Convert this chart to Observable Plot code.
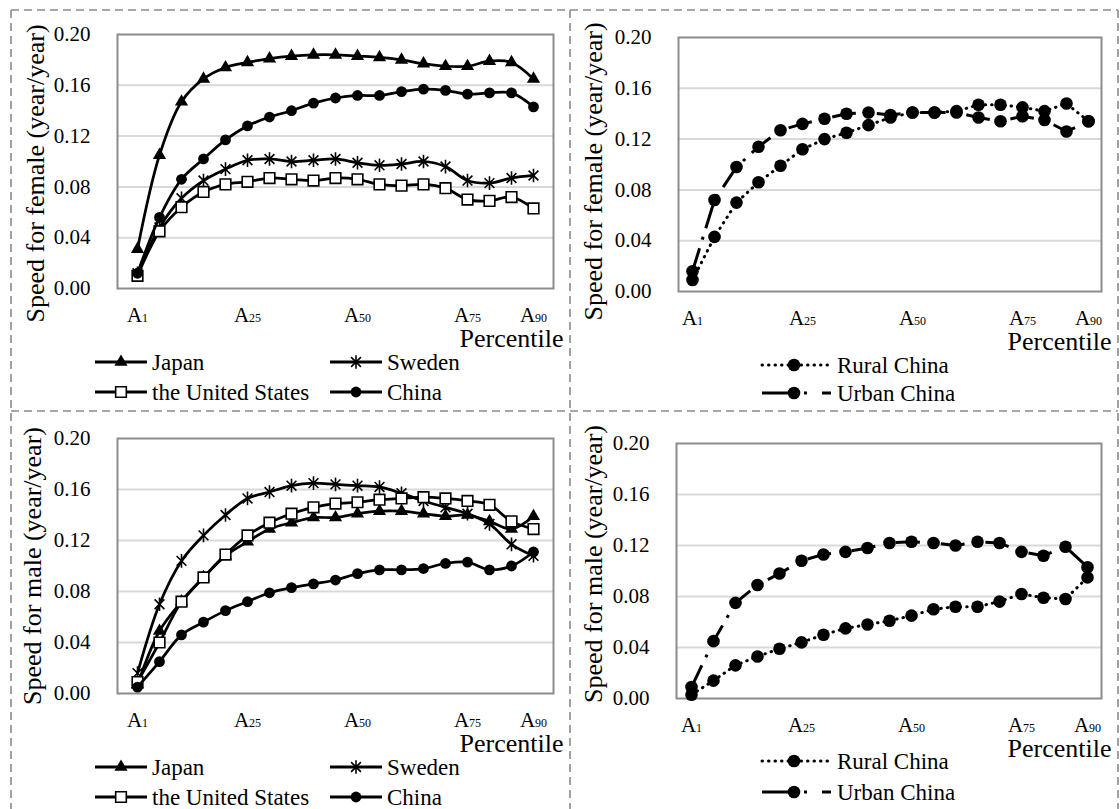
<!DOCTYPE html>
<html><head><meta charset="utf-8">
<script src="https://cdn.jsdelivr.net/npm/d3@7"></script>
<script src="https://cdn.jsdelivr.net/npm/@observablehq/plot@0.6"></script>
<style>
body{margin:0;background:#fff;font-family:'Liberation Serif','Times New Roman',serif;}
#root{position:relative;width:1120px;height:809px;overflow:hidden;background:#fff;}
.panel{position:absolute;}
.leg{position:absolute;display:flex;align-items:center;height:26px;font-size:23px;white-space:nowrap;line-height:1;color:#000;}
.leg svg{display:block;flex:none;}
</style></head><body><div id="root"></div>
<script>
// ---------- data ----------
const percentiles = [1,5,10,15,20,25,30,35,40,45,50,55,60,65,70,75,80,85,90];
const tickPercentiles = [1,25,50,75,90];
const yTicks = [0,0.04,0.08,0.12,0.16,0.20];
const gridTicks = [0.04,0.08,0.12,0.16];
const countryNames = ["Japan","Sweden","the United States","China"];
const areaNames = ["Rural China","Urban China"];
const yLabelFemale = "Speed for female (year/year)";
const yLabelMale = "Speed for male (year/year)";
const xLabel = "Percentile";

const femaleJapan  = [0.031,0.105,0.147,0.165,0.174,0.178,0.181,0.183,0.184,0.184,0.183,0.182,0.180,0.177,0.175,0.175,0.179,0.178,0.165];
const femaleSweden = [0.012,0.048,0.071,0.085,0.094,0.101,0.102,0.100,0.101,0.102,0.099,0.097,0.098,0.100,0.096,0.085,0.083,0.087,0.089];
const femaleUS     = [0.010,0.045,0.064,0.076,0.082,0.084,0.087,0.086,0.085,0.087,0.086,0.082,0.081,0.082,0.079,0.070,0.069,0.072,0.063];
const femaleChina  = [0.012,0.056,0.086,0.102,0.117,0.128,0.135,0.140,0.146,0.150,0.152,0.152,0.155,0.157,0.156,0.153,0.154,0.154,0.143];

const femaleRural  = [0.009,0.043,0.070,0.086,0.099,0.112,0.120,0.125,0.131,0.137,0.141,0.141,0.142,0.147,0.147,0.145,0.142,0.148,0.134];
const femaleUrban  = [0.016,0.072,0.098,0.114,0.127,0.132,0.136,0.140,0.141,0.139,0.141,0.141,0.141,0.137,0.134,0.138,0.135,0.126,0.134];

const maleJapan  = [0.007,0.049,0.072,0.091,0.108,0.119,0.129,0.134,0.138,0.138,0.141,0.143,0.143,0.141,0.139,0.140,0.135,0.129,0.139];
const maleSweden = [0.016,0.070,0.104,0.124,0.140,0.153,0.158,0.163,0.165,0.164,0.163,0.162,0.157,0.151,0.146,0.141,0.133,0.117,0.108];
const maleUS     = [0.009,0.040,0.072,0.091,0.109,0.124,0.134,0.141,0.146,0.149,0.150,0.152,0.153,0.154,0.153,0.151,0.148,0.135,0.129];
const maleChina  = [0.005,0.025,0.046,0.056,0.065,0.072,0.079,0.083,0.086,0.089,0.094,0.097,0.097,0.098,0.102,0.103,0.097,0.100,0.111];

const maleRural  = [0.003,0.014,0.026,0.033,0.039,0.044,0.050,0.055,0.058,0.061,0.065,0.070,0.072,0.072,0.076,0.082,0.079,0.078,0.095];
const maleUrban  = [0.009,0.045,0.075,0.089,0.098,0.108,0.113,0.115,0.118,0.122,0.123,0.122,0.120,0.123,0.122,0.115,0.112,0.119,0.103];

// ---------- styles ----------
const FONT = "'Liberation Serif', 'Times New Roman', serif";
const asterisk = {
  draw(ctx, size) {
    const r = Math.sqrt(size / Math.PI);
    const d = r * 0.72;
    ctx.moveTo(0, -r); ctx.lineTo(0, r);
    ctx.moveTo(-d, -d); ctx.lineTo(d, d);
    ctx.moveTo(-d, d); ctx.lineTo(d, -d);
  }
};
const countryStyle = {
  "Japan": {symbol: "triangle", r: 4.9, fill: "black", stroke: "none", sw: 0},
  "Sweden": {symbol: asterisk, r: 6.8, fill: "none", stroke: "black", sw: 1.6},
  "the United States": {symbol: "square", r: 6.0, fill: "white", stroke: "black", sw: 1.6},
  "China": {symbol: "circle", r: 5.4, fill: "black", stroke: "none", sw: 0}
};
const areaStyle = {
  "Rural China": {symbol: "circle", r: 6.3, fill: "black", stroke: "none", sw: 0, dash: "0.5,6", cap: "round"},
  "Urban China": {symbol: "circle", r: 6.3, fill: "black", stroke: "none", sw: 0, dash: "24,9,3,9", cap: "butt"}
};

const root = document.getElementById("root");

function makePanel(cfg) {
  const marks = [
    Plot.gridY(gridTicks, {stroke: "#d9d9d9", strokeOpacity: 1, strokeWidth: 2}),
    Plot.frame({stroke: "#8c8c8c", strokeWidth: 2}),
    Plot.axisY(yTicks, {tickSize: 0, tickPadding: 27, tickFormat: d3.format(".2f"), fontSize: 21, label: null}),
    Plot.axisX(tickPercentiles, {tickSize: 0, tickPadding: 19, fontSize: 21, label: null, tickFormat: d => "A" + d}),
    Plot.text([cfg.ylabel], {text: d => d, frameAnchor: "left", textAnchor: "middle", lineAnchor: "middle", rotate: -90, dx: cfg.ylDx, dy: cfg.ylDy, fontSize: 26}),
    Plot.text([xLabel], {text: d => d, frameAnchor: "bottom-right", textAnchor: "end", lineAnchor: "bottom", dx: 10, dy: 58, fontSize: 26})
  ];
  for (const s of cfg.series) {
    const st = cfg.styles[s.name];
    const data = percentiles.map((p, i) => ({p, v: s.values[i]}));
    marks.push(Plot.line(data, {x: "p", y: "v", stroke: "black", strokeWidth: cfg.lineW, curve: cfg.curve,
      strokeDasharray: st.dash, strokeLinecap: st.cap || "round", strokeLinejoin: "round"}));
    marks.push(Plot.dot(data, {x: "p", y: "v", symbol: st.symbol, r: st.r, fill: st.fill, stroke: st.stroke, strokeWidth: st.sw}));
  }
  const chart = Plot.plot({
    width: cfg.width, height: cfg.height,
    marginLeft: cfg.mL, marginRight: cfg.mR, marginTop: cfg.mT, marginBottom: cfg.mB,
    x: {type: "point", domain: percentiles, padding: 0.5},
    y: {domain: [0, 0.2]},
    style: {color: "black", background: "transparent", overflow: "visible", fontFamily: FONT},
    marks
  });
  const sel = d3.select(chart);
  sel.selectAll('g[aria-label="y-axis tick label"] text').style("font-size", "21px");
  // subscripts for tick labels A1, A25 ...
  sel.selectAll('g[aria-label="x-axis tick label"] text').each(function() {
    const t = d3.select(this);
    const s = t.text();
    t.style("font-size", "21px").text("A");
    t.append("tspan").attr("font-size", 12).style("font-size", "12px").text(s.slice(1));
  });
  sel.selectAll("text").style("font-family", FONT);
  const div = document.createElement("div");
  div.className = "panel";
  div.style.left = cfg.left + "px";
  div.style.top = cfg.top + "px";
  div.appendChild(chart);
  root.appendChild(div);
}

function legendItem(x, y, w, markerX, name, st, lineDash, cap, textGap) {
  const div = document.createElement("div");
  div.className = "leg";
  div.style.left = x + "px";
  div.style.top = (y - 13) + "px";
  div.style.fontFamily = FONT;
  const svg = d3.create("svg").attr("width", w).attr("height", 26).style("overflow", "visible");
  svg.append("line").attr("x1", 0).attr("x2", w).attr("y1", 13).attr("y2", 13)
    .attr("stroke", "black").attr("stroke-width", 3)
    .attr("stroke-dasharray", lineDash || null).attr("stroke-linecap", cap || "butt");
  const sym = st.symbol;
  const size = st.r * st.r * Math.PI;
  if (sym === "circle") {
    svg.append("circle").attr("cx", markerX).attr("cy", 13).attr("r", st.r).attr("fill", st.fill);
  } else {
    const symType = sym === "triangle" ? d3.symbolTriangle : sym === "square" ? d3.symbolSquare : sym;
    svg.append("path").attr("transform", `translate(${markerX},13)`)
      .attr("d", d3.symbol(symType, size)())
      .attr("fill", st.fill).attr("stroke", st.stroke === "none" ? null : st.stroke).attr("stroke-width", st.sw);
  }
  div.appendChild(svg.node());
  const span = document.createElement("span");
  span.style.marginLeft = textGap + "px";
  span.style.fontSize = "23px";
  span.style.fontFamily = FONT;
  span.textContent = name;
  div.appendChild(span);
  root.appendChild(div);
}

// ---------- panels ----------
const leftCurve = "catmull-rom";
makePanel({left: 11, top: 10, width: 559, height: 345, mL: 106, mR: 17, mT: 24, mB: 67,
  ylabel: yLabelFemale, ylDx: -82, ylDy: 12, curve: leftCurve, lineW: 2.75, styles: countryStyle,
  series: [{name: "Japan", values: femaleJapan}, {name: "Sweden", values: femaleSweden},
           {name: "the United States", values: femaleUS}, {name: "China", values: femaleChina}]});
makePanel({left: 570, top: 10, width: 548, height: 345, mL: 108, mR: 17, mT: 27, mB: 64,
  ylabel: yLabelFemale, ylDx: -85, ylDy: 7, curve: "linear", lineW: 3, styles: areaStyle,
  series: [{name: "Rural China", values: femaleRural}, {name: "Urban China", values: femaleUrban}]});
makePanel({left: 11, top: 411, width: 559, height: 350, mL: 106, mR: 17, mT: 27, mB: 68,
  ylabel: yLabelMale, ylDx: -85, ylDy: 0, curve: leftCurve, lineW: 2.75, styles: countryStyle,
  series: [{name: "Japan", values: maleJapan}, {name: "Sweden", values: maleSweden},
           {name: "the United States", values: maleUS}, {name: "China", values: maleChina}]});
makePanel({left: 570, top: 411, width: 548, height: 350, mL: 106, mR: 17, mT: 32, mB: 63,
  ylabel: yLabelMale, ylDx: -83, ylDy: -7, curve: "linear", lineW: 3, styles: areaStyle,
  series: [{name: "Rural China", values: maleRural}, {name: "Urban China", values: maleUrban}]});

// ---------- legends ----------
function countryLegend(row1, row2) {
  const cols = [95, 330];
  countryNames.forEach((n, i) => {
    legendItem(cols[i % 2], i < 2 ? row1 : row2, 52, 26, n, countryStyle[n], null, "butt", 5);
  });
}
countryLegend(362, 392);
countryLegend(767, 797);
function areaLegend(row1, row2) {
  legendItem(762, row1, 69, 32, areaNames[0], areaStyle[areaNames[0]], "0.5,6", "round", 6);
  legendItem(762, row2, 69, 32, areaNames[1], areaStyle[areaNames[1]], "32,10,3,15,20", "butt", 6);
}
areaLegend(365, 393);
areaLegend(761, 792);

// ---------- dashed panel borders ----------
const ov = d3.create("svg").attr("width", 1120).attr("height", 809)
  .style("position", "absolute").style("left", 0).style("top", 0).style("pointer-events", "none");
const bl = [[11,10,1118,10],[11,411,1118,411],[11,10,11,809],[570,10,570,809],[1118,10,1118,809]];
bl.forEach(([x1,y1,x2,y2]) => ov.append("line").attr("x1",x1).attr("y1",y1).attr("x2",x2).attr("y2",y2)
  .attr("stroke","#8a8a8a").attr("stroke-width",1.6).attr("stroke-dasharray","8,5"));
root.appendChild(ov.node());
</script>
</body></html>
